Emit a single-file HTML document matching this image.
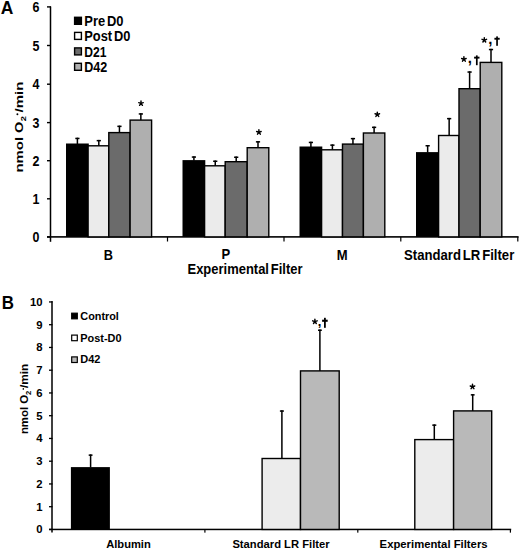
<!DOCTYPE html>
<html><head><meta charset="utf-8"><style>
html,body{margin:0;padding:0;background:#fff;}
svg{display:block;}
text{font-family:"Liberation Sans", sans-serif;font-weight:bold;fill:#000;}
</style></head><body>
<svg width="520" height="551" viewBox="0 0 520 551">
<rect width="520" height="551" fill="#fff"/>
<text x="0.7" y="13.7" font-size="18.2" text-anchor="start" textLength="12.6" lengthAdjust="spacingAndGlyphs" >A</text>
<rect x="47" y="236.30" width="4" height="1.4" fill="#000"/>
<text transform="translate(39.3,242.10) scale(0.83,1)" font-size="15.0" text-anchor="end" >0</text>
<rect x="47" y="198.10" width="4" height="1.4" fill="#000"/>
<text transform="translate(39.3,203.90) scale(0.83,1)" font-size="15.0" text-anchor="end" >1</text>
<rect x="47" y="160.00" width="4" height="1.4" fill="#000"/>
<text transform="translate(39.3,165.80) scale(0.83,1)" font-size="15.0" text-anchor="end" >2</text>
<rect x="47" y="121.90" width="4" height="1.4" fill="#000"/>
<text transform="translate(39.3,127.70) scale(0.83,1)" font-size="15.0" text-anchor="end" >3</text>
<rect x="47" y="83.50" width="4" height="1.4" fill="#000"/>
<text transform="translate(39.3,89.30) scale(0.83,1)" font-size="15.0" text-anchor="end" >4</text>
<rect x="47" y="44.80" width="4" height="1.4" fill="#000"/>
<text transform="translate(39.3,50.60) scale(0.83,1)" font-size="15.0" text-anchor="end" >5</text>
<rect x="47" y="6.20" width="4" height="1.4" fill="#000"/>
<text transform="translate(39.3,12.00) scale(0.83,1)" font-size="15.0" text-anchor="end" >6</text>
<rect x="49.75" y="6.5" width="1.5" height="235.3" fill="#000"/>
<rect x="47" y="236.10" width="471.6" height="1.6" fill="#000"/>
<rect x="166.90" y="236.90" width="1.2" height="4.6" fill="#000"/>
<rect x="283.40" y="236.90" width="1.2" height="4.6" fill="#000"/>
<rect x="400.20" y="236.90" width="1.2" height="4.6" fill="#000"/>
<rect x="517.20" y="236.90" width="1.2" height="4.6" fill="#000"/>
<rect x="76.65" y="137.70" width="1.50" height="6.30" fill="#000"/>
<rect x="75.30" y="137.70" width="4.20" height="1.50" fill="#000"/>
<rect x="98.05" y="139.90" width="1.50" height="6.40" fill="#000"/>
<rect x="96.70" y="139.90" width="4.20" height="1.50" fill="#000"/>
<rect x="118.70" y="125.60" width="1.50" height="7.50" fill="#000"/>
<rect x="117.35" y="125.60" width="4.20" height="1.50" fill="#000"/>
<rect x="140.10" y="113.20" width="1.50" height="7.40" fill="#000"/>
<rect x="138.75" y="113.20" width="4.20" height="1.50" fill="#000"/>
<rect x="66.00" y="143.50" width="22.80" height="93.40" fill="#000"/>
<rect x="88.10" y="145.80" width="20.70" height="91.10" fill="#ebebeb" stroke="#000" stroke-width="1.4"/>
<rect x="108.80" y="132.60" width="21.30" height="104.30" fill="#6b6b6b" stroke="#000" stroke-width="1.4"/>
<rect x="130.10" y="120.10" width="21.50" height="116.80" fill="#afafaf" stroke="#000" stroke-width="1.4"/>
<rect x="193.15" y="156.30" width="1.50" height="4.30" fill="#000"/>
<rect x="191.80" y="156.30" width="4.20" height="1.50" fill="#000"/>
<rect x="214.50" y="160.50" width="1.50" height="5.80" fill="#000"/>
<rect x="213.15" y="160.50" width="4.20" height="1.50" fill="#000"/>
<rect x="235.45" y="156.50" width="1.50" height="5.70" fill="#000"/>
<rect x="234.10" y="156.50" width="4.20" height="1.50" fill="#000"/>
<rect x="257.25" y="141.10" width="1.50" height="7.10" fill="#000"/>
<rect x="255.90" y="141.10" width="4.20" height="1.50" fill="#000"/>
<rect x="182.50" y="160.10" width="22.80" height="76.80" fill="#000"/>
<rect x="204.60" y="165.80" width="20.60" height="71.10" fill="#ebebeb" stroke="#000" stroke-width="1.4"/>
<rect x="225.20" y="161.70" width="22.00" height="75.20" fill="#6b6b6b" stroke="#000" stroke-width="1.4"/>
<rect x="247.20" y="147.70" width="21.60" height="89.20" fill="#afafaf" stroke="#000" stroke-width="1.4"/>
<rect x="310.15" y="141.70" width="1.50" height="5.30" fill="#000"/>
<rect x="308.80" y="141.70" width="4.20" height="1.50" fill="#000"/>
<rect x="331.65" y="144.40" width="1.50" height="5.90" fill="#000"/>
<rect x="330.30" y="144.40" width="4.20" height="1.50" fill="#000"/>
<rect x="352.20" y="137.90" width="1.50" height="6.70" fill="#000"/>
<rect x="350.85" y="137.90" width="4.20" height="1.50" fill="#000"/>
<rect x="373.35" y="126.60" width="1.50" height="6.90" fill="#000"/>
<rect x="372.00" y="126.60" width="4.20" height="1.50" fill="#000"/>
<rect x="299.50" y="146.50" width="22.80" height="90.40" fill="#000"/>
<rect x="321.60" y="149.80" width="20.90" height="87.10" fill="#ebebeb" stroke="#000" stroke-width="1.4"/>
<rect x="342.50" y="144.10" width="20.90" height="92.80" fill="#6b6b6b" stroke="#000" stroke-width="1.4"/>
<rect x="363.40" y="133.00" width="21.40" height="103.90" fill="#afafaf" stroke="#000" stroke-width="1.4"/>
<rect x="426.90" y="145.00" width="1.50" height="7.60" fill="#000"/>
<rect x="425.55" y="145.00" width="4.20" height="1.50" fill="#000"/>
<rect x="448.40" y="117.90" width="1.50" height="18.10" fill="#000"/>
<rect x="447.05" y="117.90" width="4.20" height="1.50" fill="#000"/>
<rect x="468.85" y="71.30" width="1.50" height="17.90" fill="#000"/>
<rect x="467.50" y="71.30" width="4.20" height="1.50" fill="#000"/>
<rect x="490.25" y="48.80" width="1.50" height="14.10" fill="#000"/>
<rect x="488.90" y="48.80" width="4.20" height="1.50" fill="#000"/>
<rect x="416.00" y="152.10" width="23.30" height="84.80" fill="#000"/>
<rect x="438.60" y="135.50" width="20.40" height="101.40" fill="#ebebeb" stroke="#000" stroke-width="1.4"/>
<rect x="459.00" y="88.70" width="21.20" height="148.20" fill="#6b6b6b" stroke="#000" stroke-width="1.4"/>
<rect x="480.20" y="62.40" width="21.60" height="174.50" fill="#afafaf" stroke="#000" stroke-width="1.4"/>
<path d="M141.00,103.40L141.00,101.02M141.00,103.40L138.74,102.66M141.00,103.40L139.60,105.32M141.00,103.40L142.40,105.32M141.00,103.40L143.26,102.66" stroke="#000" stroke-width="1.45" stroke-linecap="round" fill="none"/>
<path d="M258.90,132.20L258.90,129.82M258.90,132.20L256.64,131.46M258.90,132.20L257.50,134.12M258.90,132.20L260.30,134.12M258.90,132.20L261.16,131.46" stroke="#000" stroke-width="1.45" stroke-linecap="round" fill="none"/>
<path d="M377.30,114.50L377.30,112.12M377.30,114.50L375.04,113.76M377.30,114.50L375.90,116.42M377.30,114.50L378.70,116.42M377.30,114.50L379.56,113.76" stroke="#000" stroke-width="1.45" stroke-linecap="round" fill="none"/>
<path d="M463.90,59.20L463.90,56.82M463.90,59.20L461.64,58.46M463.90,59.20L462.50,61.12M463.90,59.20L465.30,61.12M463.90,59.20L466.16,58.46" stroke="#000" stroke-width="1.45" stroke-linecap="round" fill="none"/>
<text x="467.68" y="63.25" font-size="15" text-anchor="start" >,</text>
<rect x="475.95" y="55.40" width="1.70" height="9.80" fill="#000"/>
<rect x="474.10" y="56.70" width="5.40" height="1.90" fill="#000"/>
<path d="M484.30,40.10L484.30,37.72M484.30,40.10L482.04,39.36M484.30,40.10L482.90,42.02M484.30,40.10L485.70,42.02M484.30,40.10L486.56,39.36" stroke="#000" stroke-width="1.45" stroke-linecap="round" fill="none"/>
<text x="488.18" y="43.95" font-size="15" text-anchor="start" >,</text>
<rect x="496.20" y="36.40" width="1.70" height="9.40" fill="#000"/>
<rect x="494.40" y="37.80" width="5.30" height="1.90" fill="#000"/>
<rect x="74.6" y="17.30" width="6.8" height="7.0" fill="#000" stroke="#000" stroke-width="1.4"/>
<text x="84.3" y="26.00" font-size="14.3" text-anchor="start" textLength="39.2" lengthAdjust="spacingAndGlyphs" word-spacing="-2">Pre D0</text>
<rect x="74.6" y="32.40" width="6.8" height="7.0" fill="#fff" stroke="#000" stroke-width="1.4"/>
<text x="84.3" y="41.30" font-size="14.3" text-anchor="start" textLength="46.0" lengthAdjust="spacingAndGlyphs" word-spacing="-2">Post D0</text>
<rect x="74.6" y="47.90" width="6.8" height="7.0" fill="#6b6b6b" stroke="#000" stroke-width="1.4"/>
<text x="84.3" y="56.70" font-size="14.3" text-anchor="start" textLength="22.2" lengthAdjust="spacingAndGlyphs" word-spacing="-2">D21</text>
<rect x="74.6" y="63.30" width="6.8" height="7.0" fill="#afafaf" stroke="#000" stroke-width="1.4"/>
<text x="84.3" y="72.10" font-size="14.3" text-anchor="start" textLength="23.0" lengthAdjust="spacingAndGlyphs" word-spacing="-2">D42</text>
<text transform="translate(108.3,260) scale(0.86,1)" font-size="14.8" text-anchor="middle" >B</text>
<text transform="translate(225.9,259) scale(0.88,1)" font-size="14.8" text-anchor="middle" >P</text>
<text transform="translate(342.3,260) scale(0.88,1)" font-size="14.8" text-anchor="middle" >M</text>
<text x="404.0" y="260" font-size="14.8" text-anchor="start" textLength="110.3" lengthAdjust="spacingAndGlyphs" word-spacing="-2">Standard LR Filter</text>
<text x="187.5" y="274.2" font-size="14.8" text-anchor="start" textLength="115.0" lengthAdjust="spacingAndGlyphs" word-spacing="-2">Experimental Filter</text>
<text transform="translate(22.80,172.50) scale(0.8,1) rotate(-90)" font-size="14.5" textLength="35.6" lengthAdjust="spacingAndGlyphs">nmol</text>
<text transform="translate(22.80,133.00) scale(0.8,1) rotate(-90)" font-size="14.5">O</text>
<text transform="translate(25.80,121.20) scale(0.8,1) rotate(-90)" font-size="9.3">2</text>
<circle cx="17.4" cy="114.3" r="0.95" fill="#000"/>
<text transform="translate(22.80,112.50) scale(0.8,1) rotate(-90)" font-size="14.5" textLength="30.8" lengthAdjust="spacingAndGlyphs">/min</text>
<text x="1.8" y="309.0" font-size="17.5" text-anchor="start" textLength="12.2" lengthAdjust="spacingAndGlyphs" >B</text>
<rect x="49" y="528.80" width="3.5" height="1.3" fill="#000"/>
<text x="42.5" y="533.45" font-size="11.3" text-anchor="end" >0</text>
<rect x="49" y="506.05" width="3.5" height="1.3" fill="#000"/>
<text x="42.5" y="510.70" font-size="11.3" text-anchor="end" >1</text>
<rect x="49" y="483.30" width="3.5" height="1.3" fill="#000"/>
<text x="42.5" y="487.95" font-size="11.3" text-anchor="end" >2</text>
<rect x="49" y="460.55" width="3.5" height="1.3" fill="#000"/>
<text x="42.5" y="465.20" font-size="11.3" text-anchor="end" >3</text>
<rect x="49" y="437.80" width="3.5" height="1.3" fill="#000"/>
<text x="42.5" y="442.45" font-size="11.3" text-anchor="end" >4</text>
<rect x="49" y="415.05" width="3.5" height="1.3" fill="#000"/>
<text x="42.5" y="419.70" font-size="11.3" text-anchor="end" >5</text>
<rect x="49" y="392.30" width="3.5" height="1.3" fill="#000"/>
<text x="42.5" y="396.95" font-size="11.3" text-anchor="end" >6</text>
<rect x="49" y="369.55" width="3.5" height="1.3" fill="#000"/>
<text x="42.5" y="374.20" font-size="11.3" text-anchor="end" >7</text>
<rect x="49" y="346.80" width="3.5" height="1.3" fill="#000"/>
<text x="42.5" y="351.45" font-size="11.3" text-anchor="end" >8</text>
<rect x="49" y="324.05" width="3.5" height="1.3" fill="#000"/>
<text x="42.5" y="328.70" font-size="11.3" text-anchor="end" >9</text>
<rect x="49" y="301.30" width="3.5" height="1.3" fill="#000"/>
<text x="42.5" y="305.95" font-size="11.3" text-anchor="end" >10</text>
<rect x="51.25" y="301.1" width="1.5" height="231.4" fill="#000"/>
<rect x="49" y="528.70" width="462.2" height="1.5" fill="#000"/>
<rect x="204.30" y="529.45" width="1.2" height="3.2" fill="#000"/>
<rect x="357.20" y="529.45" width="1.2" height="3.2" fill="#000"/>
<rect x="509.80" y="529.45" width="1.2" height="3.2" fill="#000"/>
<rect x="89.85" y="454.40" width="1.50" height="13.10" fill="#000"/>
<rect x="88.70" y="454.40" width="3.80" height="1.50" fill="#000"/>
<rect x="70.90" y="467.10" width="39.00" height="62.35" fill="#000"/>
<rect x="281.15" y="410.30" width="1.50" height="48.70" fill="#000"/>
<rect x="279.90" y="410.30" width="4.00" height="1.50" fill="#000"/>
<rect x="319.15" y="329.50" width="1.50" height="41.90" fill="#000"/>
<rect x="318.00" y="329.50" width="3.80" height="1.50" fill="#000"/>
<rect x="262.10" y="458.50" width="38.40" height="70.95" fill="#ececec" stroke="#000" stroke-width="1.4"/>
<rect x="300.50" y="370.90" width="38.70" height="158.55" fill="#b9b9b9" stroke="#000" stroke-width="1.4"/>
<rect x="433.55" y="424.40" width="1.50" height="15.70" fill="#000"/>
<rect x="432.30" y="424.40" width="4.00" height="1.50" fill="#000"/>
<rect x="471.95" y="394.10" width="1.50" height="17.30" fill="#000"/>
<rect x="470.80" y="394.10" width="3.80" height="1.50" fill="#000"/>
<rect x="414.80" y="439.60" width="38.80" height="89.85" fill="#ececec" stroke="#000" stroke-width="1.4"/>
<rect x="453.60" y="410.90" width="38.10" height="118.55" fill="#b9b9b9" stroke="#000" stroke-width="1.4"/>
<path d="M314.90,321.60L314.90,319.22M314.90,321.60L312.64,320.86M314.90,321.60L313.50,323.52M314.90,321.60L316.30,323.52M314.90,321.60L317.16,320.86" stroke="#000" stroke-width="1.45" stroke-linecap="round" fill="none"/>
<text x="317.82" y="325.75" font-size="13" text-anchor="start" >,</text>
<rect x="324.00" y="317.80" width="1.80" height="10.00" fill="#000"/>
<rect x="322.10" y="319.70" width="5.60" height="2.10" fill="#000"/>
<path d="M472.50,386.70L472.50,384.32M472.50,386.70L470.24,385.96M472.50,386.70L471.10,388.62M472.50,386.70L473.90,388.62M472.50,386.70L474.76,385.96" stroke="#000" stroke-width="1.45" stroke-linecap="round" fill="none"/>
<rect x="71.7" y="313.20" width="5.6" height="5.6" fill="#000" stroke="#000" stroke-width="1.2"/>
<text x="80.3" y="319.90" font-size="11.5" text-anchor="start" textLength="38.6" lengthAdjust="spacingAndGlyphs" >Control</text>
<rect x="71.7" y="335.10" width="5.6" height="5.6" fill="#fff" stroke="#000" stroke-width="1.2"/>
<text x="80.3" y="341.70" font-size="11.5" text-anchor="start" textLength="41.3" lengthAdjust="spacingAndGlyphs" >Post-D0</text>
<rect x="71.7" y="356.90" width="5.6" height="5.6" fill="#b9b9b9" stroke="#000" stroke-width="1.2"/>
<text x="80.3" y="363.40" font-size="11.5" text-anchor="start" textLength="20.2" lengthAdjust="spacingAndGlyphs" >D42</text>
<text x="128.5" y="547.6" font-size="11.5" text-anchor="middle" textLength="44.6" lengthAdjust="spacingAndGlyphs" >Albumin</text>
<text x="281" y="547.6" font-size="11.5" text-anchor="middle" textLength="97.2" lengthAdjust="spacingAndGlyphs" >Standard LR Filter</text>
<text x="433.6" y="547.6" font-size="11.5" text-anchor="middle" textLength="108.0" lengthAdjust="spacingAndGlyphs" >Experimental Filters</text>
<text transform="translate(28.10,434.10) scale(1.0,1) rotate(-90)" font-size="11.3" textLength="27.2" lengthAdjust="spacingAndGlyphs">nmol</text>
<text transform="translate(28.10,403.80) scale(1.0,1) rotate(-90)" font-size="11.5">O</text>
<text transform="translate(31.00,394.90) scale(1.0,1) rotate(-90)" font-size="7.6">2</text>
<ellipse cx="23.3" cy="388.9" rx="0.75" ry="0.85" fill="#000"/>
<text transform="translate(28.10,388.10) scale(1.0,1) rotate(-90)" font-size="11.3" textLength="24.2" lengthAdjust="spacingAndGlyphs">/min</text>
</svg>
</body></html>
